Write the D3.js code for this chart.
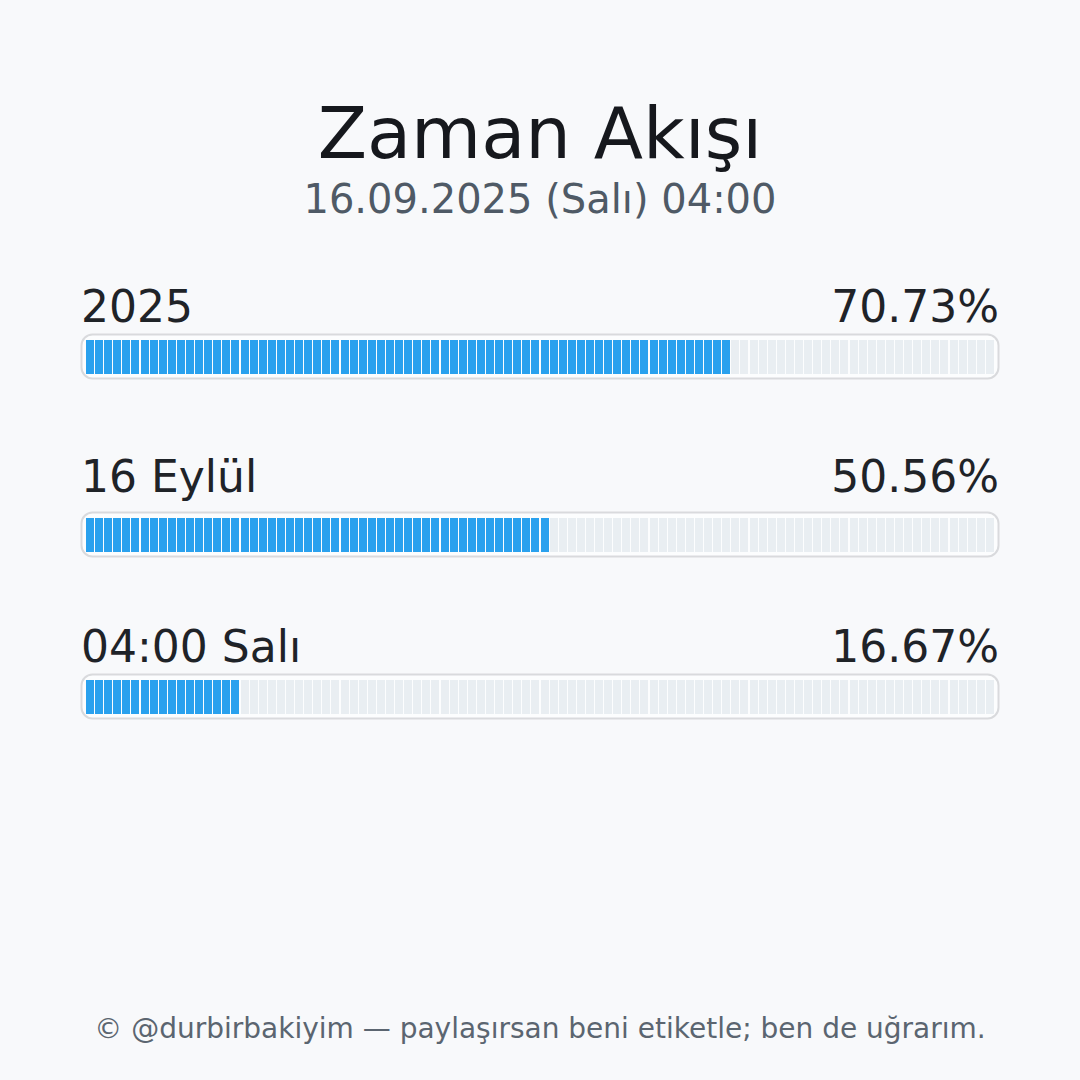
<!DOCTYPE html>
<html><head><meta charset="utf-8">
<script src="https://cdn.jsdelivr.net/npm/d3@7"></script>
<style>html,body{margin:0;padding:0;background:#f8f9fb;}svg{display:block;}</style>
</head><body>
<svg id="chart" width="1080" height="1080"></svg>
<script>
const titleText = "Zaman Akışı";
const subtitleText = "16.09.2025 (Salı) 04:00";
const footerText = "© @durbirbakiyim — paylaşırsan beni etiketle; ben de uğrarım.";
const categories = ["2025", "16 Eylül", "04:00 Salı"];
const percentages = [70.73, 50.56, 16.67];
const segmentCount = 100;

const W = 1080, H = 1080;
const FONT = "DejaVu Sans, Noto Sans, sans-serif";
const svg = d3.select("#chart");
svg.append("rect").attr("width", W).attr("height", H).attr("fill", "#f8f9fb");

svg.append("text").attr("x", W/2).attr("y", 158).attr("text-anchor", "middle")
  .attr("font-family", FONT).attr("font-size", 72).attr("fill", "#16181d").text(titleText);
svg.append("text").attr("x", W/2).attr("y", 213).attr("text-anchor", "middle")
  .attr("font-family", FONT).attr("font-size", 40).attr("fill", "#4f5a66").text(subtitleText);

const ctx = document.createElement("canvas").getContext("2d");
ctx.font = "44px 'DejaVu Sans'";
function descent(t){ const m = ctx.measureText(t); return Math.max(0, m.actualBoundingBoxDescent || 0); }

const left = 81, right = 999;
const rowY = d3.scalePoint().domain(d3.range(categories.length)).range([322, 662]);
const seg = d3.scaleBand().domain(d3.range(segmentCount)).range([left + 5, right - 4]).paddingInner(0).paddingOuter(0);
const segW = Math.floor(seg.step()) - 1;

categories.forEach((cat, i) => {
  const base = rowY(i);
  const g = svg.append("g");
  g.append("text").attr("x", left).attr("y", base).attr("font-family", FONT)
    .attr("font-size", 44).attr("fill", "#1f2328").text(cat);
  g.append("text").attr("x", right).attr("y", base).attr("text-anchor", "end").attr("font-family", FONT)
    .attr("font-size", 44).attr("fill", "#1f2328").text(percentages[i].toFixed(2) + "%");
  const top = Math.round(base + descent(cat) + 11);
  g.append("rect").attr("x", left + 0.5).attr("y", top + 0.5).attr("width", right - left - 1).attr("height", 44)
    .attr("rx", 11).attr("fill", "#fcfdfe").attr("stroke", "#d9dadd").attr("stroke-width", 2);
  const filled = Math.round(percentages[i] / 100 * segmentCount);
  g.selectAll("rect.seg").data(d3.range(segmentCount)).join("rect").attr("class", "seg")
    .attr("x", d => Math.round(seg(d))).attr("y", top + 6).attr("width", segW).attr("height", 34)
    .attr("shape-rendering", "crispEdges")
    .attr("fill", d => d < filled ? "#2aa1ee" : "#e9eef2");
});

svg.append("text").attr("x", W/2).attr("y", 1038).attr("text-anchor", "middle")
  .attr("font-family", FONT).attr("font-size", 28).attr("fill", "#5b6570").text(footerText);
</script>
</body></html>
